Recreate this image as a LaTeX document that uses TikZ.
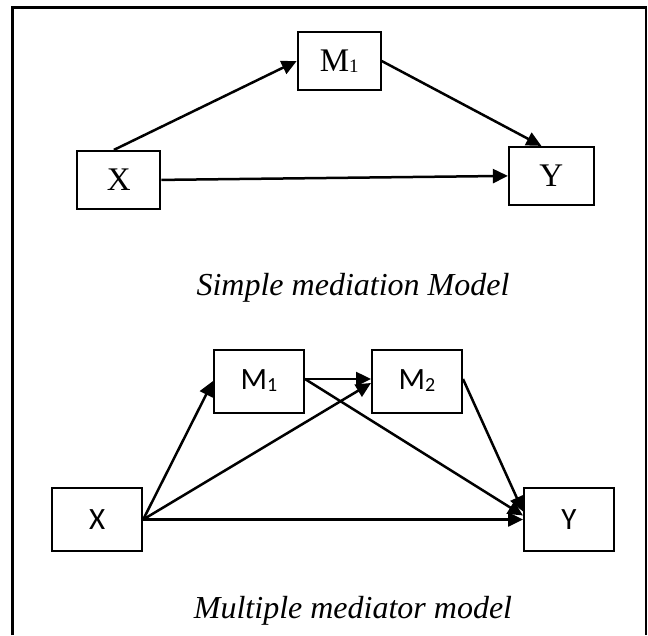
\documentclass[tikz,border=0pt]{standalone}
\usepackage{fontspec}
\setmainfont{Liberation Serif}
\newfontfamily\calibrisub{Carlito}
\usetikzlibrary{arrows.meta}

\tikzset{
  frameline/.style={line width=2.5pt, black},
  serifbox/.style={draw, line width=2pt, minimum width=83pt, minimum height=58pt,
    inner sep=0pt, font=\fontsize{33}{33}\selectfont},
  sansbox/.style={draw, line width=2pt, minimum width=90pt, minimum height=63pt,
    inner sep=0pt, font=\calibrisub\fontsize{31}{31}\selectfont},
  path arrow/.style={line width=2.5pt, -{Triangle[length=15pt,width=14pt]}},
  caption/.style={font=\itshape\fontsize{32}{32}\selectfont, anchor=base, inner sep=0pt}
}

\begin{document}
\begin{tikzpicture}[x=1pt, y=-1pt]
  \useasboundingbox (0,0) rectangle (648,635);

  % open frame round both models
  \draw[frameline] (12.3,635) -- (12.3,7.7) -- (646,7.7) -- (646,635);

  % simple mediation model
  \node[serifbox] (xa) at (118.9,179.9) {X};
  \node[serifbox] (ma) at (339.2,61) {M\raisebox{-1pt}{\fontsize{19}{19}\selectfont 1}};
  \node[serifbox, minimum width=85pt] (ya) at (551.4,175.9) {Y};

  \draw[path arrow] ([xshift=-5pt]xa.north) -- (ma.west);
  \draw[path arrow] (ma.east) -- ([xshift=-10pt]ya.north);
  \draw[path arrow] (xa.east) -- (ya.west);

  \node[caption] (capa) at (353,295) {Simple mediation Model};

  % multiple mediator model
  \node[sansbox] (xb) at (97.2,519.5) {X};
  \node[sansbox] (mb1) at (259,381) {M\raisebox{-2pt}{\fontsize{20}{20}\selectfont 1}};
  \node[sansbox] (mb2) at (417,381) {M\raisebox{-2pt}{\fontsize{20}{20}\selectfont 2}};
  \node[sansbox] (yb) at (569,519.5) {Y};

  \draw[path arrow] (xb.east) -- (mb1.west);
  \draw[path arrow] (xb.east) -- ([yshift=-2pt]mb2.west);
  \draw[path arrow] (xb.east) -- (yb.west);
  \draw[path arrow] ([yshift=2pt]mb1.east) -- ([yshift=2pt]mb2.west);
  \draw[path arrow] ([yshift=2pt]mb1.east) -- ([yshift=4pt]yb.west);
  \draw[path arrow] ([yshift=2pt]mb2.east) -- ([yshift=8pt]yb.west);

  \node[caption] (capb) at (353,618) {Multiple mediator model};
\end{tikzpicture}
\end{document}
